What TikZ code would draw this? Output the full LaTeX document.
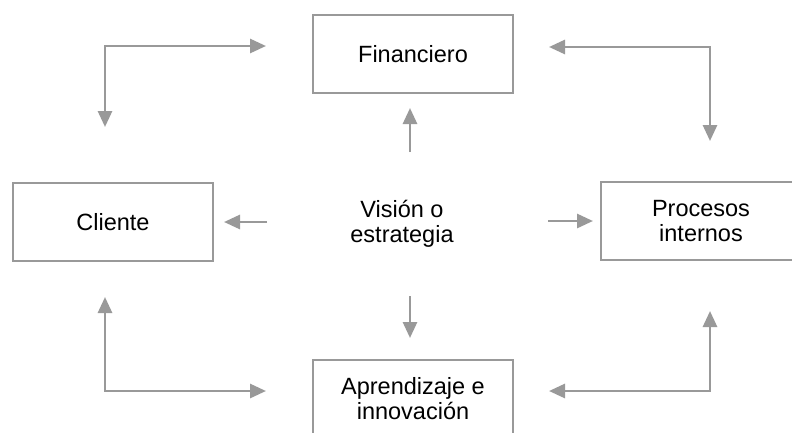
\documentclass[tikz,border=0pt]{standalone}
\usepackage{fontspec}
\setmainfont{Liberation Sans}
\usetikzlibrary{arrows.meta}
\definecolor{linegray}{RGB}{153,153,153}
\tikzset{
  box/.style={draw=linegray, line width=2pt, minimum width=200pt, minimum height=78pt,
    inner sep=0pt, align=center, font=\fontsize{23.5}{25.5}\selectfont},
  label/.style={inner sep=0pt, align=center, font=\fontsize{23.5}{25.5}\selectfont},
  onearrow/.style={draw=linegray, line width=2.8pt, -{Triangle[length=16pt,width=14pt]}, color=linegray},
  twoarrow/.style={draw=linegray, line width=2.8pt, {Triangle[length=16pt,width=14pt]}-{Triangle[length=16pt,width=14pt]}, color=linegray}
}
\begin{document}
\begin{tikzpicture}[x=1pt,y=-1pt]
\useasboundingbox (0,0) rectangle (792,432);
\clip (0,0) rectangle (792,432);
\fill[white] (0,0) rectangle (792,432);

% the four perspectives
\node[box] (fin) at (413,54) {Financiero};
\node[box] (cli) at (113,222) {Cliente};
\node[box] (pro) at (701,221) {Procesos\\internos};
\node[box] (apr) at (413,398.5) {Aprendizaje e\\innovación};

% centre
\node[label] (vis) at (402,224) {Visión o\\estrategia};

% free ends of the connectors
\coordinate (fcA) at (105,127);
\coordinate (fcB) at (266,46);
\coordinate (fpA) at (549,47);
\coordinate (fpB) at (710,141);
\coordinate (caA) at (105,297);
\coordinate (caB) at (266,391);
\coordinate (paA) at (549,391);
\coordinate (paB) at (710,311);
\coordinate (upA) at (410,152);
\coordinate (upB) at (410,108);
\coordinate (dnA) at (410,296);
\coordinate (dnB) at (410,338);
\coordinate (ltA) at (267,222);
\coordinate (ltB) at (224,222);
\coordinate (rtA) at (548,221);
\coordinate (rtB) at (593,221);

% links between perspectives
\draw[twoarrow] (fcA) |- (fcB);
\draw[twoarrow] (fpA) -| (fpB);
\draw[twoarrow] (caA) |- (caB);
\draw[twoarrow] (paA) -| (paB);

% from the vision outwards
\draw[onearrow] (upA) -- (upB);
\draw[onearrow] (dnA) -- (dnB);
\draw[onearrow] (ltA) -- (ltB);
\draw[onearrow] (rtA) -- (rtB);
\end{tikzpicture}
\end{document}
